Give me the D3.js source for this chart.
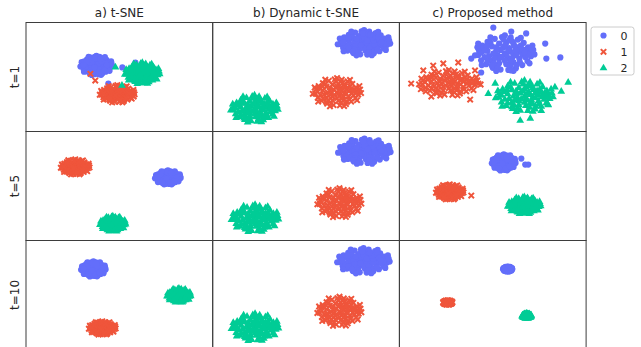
<!DOCTYPE html>
<html>
<head>
<meta charset="utf-8">
<script src="https://cdn.jsdelivr.net/npm/d3@7"></script>
<style>
  html, body { margin: 0; padding: 0; background: #fff; }
  svg { display: block; font-family: "DejaVu Sans", sans-serif; }
</style>
</head>
<body>
<svg id="chart" width="641" height="347"></svg>
<script>
// ---- data -------------------------------------------------------------
const classes = ["0", "1", "2"];
const classColors = ["#636efa", "#ef553b", "#00cc96"];
const colTitles = ["a) t-SNE", "b) Dynamic t-SNE", "c) Proposed method"];
const rowLabels = ["t=1", "t=5", "t=10"];

// embedding extent shown in every panel
const xDomain = [-50, 50];
const yDomain = [-29, 29];

// normalised layout of the points inside one cluster (unit radius)
const blobShape = [
  [0, 0], [0.2, 0.1], [-0.15, 0.2], [0.1, -0.25], [-0.25, -0.1], [0.3, -0.05],
  [-0.05, 0.33], [-0.3, 0.15], [0.15, 0.3], [-0.2, -0.3], [0.25, -0.25], [0.05, -0.1],
  [0.5, 0.1], [0.45, 0.35], [0.3, 0.55], [0.05, 0.6], [-0.2, 0.55], [-0.45, 0.4],
  [-0.6, 0.15], [-0.55, -0.15], [-0.45, -0.4], [-0.2, -0.55], [0.05, -0.6], [0.3, -0.5],
  [0.5, -0.3], [0.62, -0.05], [0.4, -0.1], [-0.4, 0.0], [0.0, 0.45], [0.0, -0.4],
  [0.38, 0.2], [-0.35, -0.25], [0.2, -0.45], [-0.3, 0.35],
  [0.85, 0.1], [0.8, 0.35], [0.65, 0.6], [0.45, 0.78], [0.2, 0.9], [-0.1, 0.92],
  [-0.35, 0.82], [-0.6, 0.65], [-0.78, 0.45], [-0.9, 0.2], [-0.92, -0.08], [-0.82, -0.38],
  [-0.65, -0.6], [-0.42, -0.8], [-0.15, -0.9], [0.12, -0.92], [0.38, -0.82], [0.6, -0.65],
  [0.78, -0.42], [0.9, -0.15], [0.72, 0.2], [0.55, 0.45], [-0.7, -0.2], [-0.75, 0.3],
  [0.7, -0.2], [0.6, 0.25], [-0.5, 0.6], [0.15, 0.75], [-0.25, -0.75], [0.4, -0.65],
  [-0.6, -0.45], [0.8, -0.05],
  [1.02, -0.05], [0.95, 0.45], [0.55, 0.88], [0.0, 1.02], [-0.5, 0.9], [-0.95, 0.35],
  [-1.03, -0.1], [-0.8, -0.65], [-0.3, -0.98], [0.3, -0.97], [0.85, -0.55], [0.98, 0.2],
  [0.12, 0.18], [-0.38, -0.55], [0.68, 0.05], [-0.12, -0.18], [0.33, 0.42], [-0.62, 0.42],
  [0.18, -0.72], [-0.05, 0.78], [-0.82, 0.05], [0.52, -0.5], [0.25, 0.68], [-0.45, -0.68]
];

// cluster centre (x, y) and spread (sx, sy) per panel: row = time step, col = method
const clusters = [
  // t=1
  { row: 0, col: 0, cls: 0, x: -12.3, y: 6.1, sx: 8.3, sy: 5.1 },
  { row: 0, col: 0, cls: 1, x: -1.1, y: -9.0, sx: 9.1, sy: 4.6 },
  { row: 0, col: 0, cls: 2, x: 12.3, y: 1.9, sx: 9.1, sy: 5.6 },
  { row: 0, col: 1, cls: 0, x: 31.1, y: 18.1, sx: 13.7, sy: 6.7 },
  { row: 0, col: 1, cls: 1, x: 16.6, y: -8.2, sx: 12.6, sy: 7.5 },
  { row: 0, col: 1, cls: 2, x: -27.6, y: -17.0, sx: 12.3, sy: 7.2 },
  { row: 0, col: 2, cls: 0, x: 6.5, y: 12.5, sx: 15.5, sy: 9.5 },
  { row: 0, col: 2, cls: 1, x: -23.5, y: -3.2, sx: 15.5, sy: 6.8 },
  { row: 0, col: 2, cls: 2, x: 17.0, y: -10.3, sx: 15.0, sy: 8.3 },
  // t=5
  { row: 1, col: 0, cls: 0, x: 26.0, y: 4.5, sx: 6.7, sy: 3.7 },
  { row: 1, col: 0, cls: 1, x: -23.6, y: 10.1, sx: 7.5, sy: 4.0 },
  { row: 1, col: 0, cls: 2, x: -3.5, y: -20.2, sx: 6.7, sy: 4.0 },
  { row: 1, col: 1, cls: 0, x: 31.3, y: 18.4, sx: 13.7, sy: 6.7 },
  { row: 1, col: 1, cls: 1, x: 17.9, y: -9.0, sx: 11.5, sy: 7.7 },
  { row: 1, col: 1, cls: 2, x: -27.3, y: -17.3, sx: 12.3, sy: 7.2 },
  { row: 1, col: 2, cls: 0, x: 5.9, y: 12.5, sx: 6.2, sy: 4.3 },
  { row: 1, col: 2, cls: 1, x: -23.0, y: -3.2, sx: 7.2, sy: 4.0 },
  { row: 1, col: 2, cls: 2, x: 16.9, y: -10.4, sx: 8.6, sy: 4.5 },
  // t=10
  { row: 2, col: 0, cls: 0, x: -13.9, y: 13.8, sx: 6.4, sy: 4.0 },
  { row: 2, col: 0, cls: 1, x: -9.1, y: -17.6, sx: 7.0, sy: 3.5 },
  { row: 2, col: 0, cls: 2, x: 31.9, y: -0.3, sx: 6.2, sy: 3.7 },
  { row: 2, col: 1, cls: 0, x: 30.8, y: 18.1, sx: 13.7, sy: 6.7 },
  { row: 2, col: 1, cls: 1, x: 17.9, y: -8.8, sx: 11.5, sy: 7.7 },
  { row: 2, col: 1, cls: 2, x: -27.3, y: -17.3, sx: 12.3, sy: 7.2 },
  { row: 2, col: 2, cls: 0, x: 8.0, y: 13.8, sx: 2.4, sy: 1.3 },
  { row: 2, col: 2, cls: 1, x: -24.1, y: -4.0, sx: 2.4, sy: 1.1 },
  { row: 2, col: 2, cls: 2, x: 18.2, y: -11.2, sx: 2.4, sy: 1.3 }
];

// individual points lying away from their cluster
const strayPoints = [
  { row: 0, col: 0, cls: 0, x: 1.6, y: 5.1 }, { row: 0, col: 0, cls: 0, x: 8.6, y: 7.7 },
  { row: 0, col: 0, cls: 0, x: -5.9, y: -3.5 },
  { row: 0, col: 0, cls: 1, x: -15.5, y: 1.7 }, { row: 0, col: 0, cls: 1, x: -12.9, y: -1.9 },
  { row: 0, col: 0, cls: 1, x: 7.7, y: -10.4 },
  { row: 0, col: 0, cls: 2, x: -2.1, y: 5.2 }, { row: 0, col: 0, cls: 2, x: 1.4, y: -4.5 },

  { row: 0, col: 2, cls: 0, x: 0.3, y: 26.3 }, { row: 0, col: 2, cls: 0, x: 17.9, y: 23.2 },
  { row: 0, col: 2, cls: 0, x: 28.1, y: 17.8 }, { row: 0, col: 2, cls: 0, x: 36.2, y: 10.4 },
  { row: 0, col: 2, cls: 0, x: 28.7, y: 9.8 }, { row: 0, col: 2, cls: 0, x: -6.2, y: 2.4 },
  { row: 0, col: 2, cls: 0, x: -11.5, y: 9.8 }, { row: 0, col: 2, cls: 0, x: 9.9, y: 24.2 },
  { row: 0, col: 2, cls: 0, x: -7.8, y: 17.8 }, { row: 0, col: 2, cls: 0, x: 9.9, y: 3.5 },
  { row: 0, col: 2, cls: 0, x: 20.5, y: 15.5 }, { row: 0, col: 2, cls: 0, x: -4.5, y: 14.0 },
  { row: 0, col: 2, cls: 1, x: -43.7, y: -3.5 }, { row: 0, col: 2, cls: 1, x: -12.1, y: -12.0 },
  { row: 0, col: 2, cls: 1, x: -18.5, y: 7.7 }, { row: 0, col: 2, cls: 1, x: -26.5, y: 7.2 },
  { row: 0, col: 2, cls: 1, x: -31.9, y: 6.1 }, { row: 0, col: 2, cls: 1, x: -37.2, y: 3.5 },
  { row: 0, col: 2, cls: 1, x: -32.9, y: -10.4 }, { row: 0, col: 2, cls: 1, x: -9.5, y: 3.5 },
  { row: 0, col: 2, cls: 1, x: -38.5, y: -6.5 }, { row: 0, col: 2, cls: 1, x: -6.5, y: -4.0 },
  { row: 0, col: 2, cls: 2, x: 40.4, y: -2.9 }, { row: 0, col: 2, cls: 2, x: 20.1, y: -22.1 },
  { row: 0, col: 2, cls: 2, x: 14.7, y: -23.2 }, { row: 0, col: 2, cls: 2, x: 1.3, y: -3.5 },
  { row: 0, col: 2, cls: 2, x: 36.7, y: -7.7 }, { row: 0, col: 2, cls: 2, x: 11.0, y: -16.8 },
  { row: 0, col: 2, cls: 2, x: 33.3, y: -5.4 }, { row: 0, col: 2, cls: 2, x: -2.4, y: -8.9 },
  { row: 0, col: 2, cls: 2, x: 26.0, y: -18.0 }, { row: 0, col: 2, cls: 2, x: 29.5, y: -14.5 },

  { row: 1, col: 2, cls: 0, x: 15.3, y: 14.6 }, { row: 1, col: 2, cls: 0, x: 17.4, y: 11.4 },
  { row: 1, col: 2, cls: 0, x: 19.0, y: 11.4 },
  { row: 1, col: 2, cls: 1, x: -11.5, y: -5.1 }
];

// ---- layout -----------------------------------------------------------
const gridLeft = 26, gridTop = 22.5;
const panelW = 186.7, panelH = 109;

const svg = d3.select("#chart");

const x = d3.scaleLinear().domain(xDomain).range([0, panelW]);
const y = d3.scaleLinear().domain(yDomain).range([panelH, 0]);

const circlePath = d3.symbol(d3.symbolCircle, 30)();
const trianglePath = d3.symbol(d3.symbolTriangle, 26)();

function drawMarker(sel, cls) {
  if (cls === 0) {
    sel.append("path").attr("d", circlePath).attr("fill", classColors[0]);
  } else if (cls === 1) {
    sel.append("path")
      .attr("d", "M-2.7,-2.7L2.7,2.7M-2.7,2.7L2.7,-2.7")
      .attr("stroke", classColors[1]).attr("stroke-width", 2).attr("fill", "none");
  } else {
    sel.append("path").attr("d", trianglePath).attr("fill", classColors[2]);
  }
}

// expand every cluster into its points
const allPoints = [];
clusters.forEach(c => {
  blobShape.forEach(([u, v]) => {
    allPoints.push({ row: c.row, col: c.col, cls: c.cls, x: c.x + u * c.sx, y: c.y + v * c.sy });
  });
});
strayPoints.forEach(p => allPoints.push(p));

for (let r = 0; r < rowLabels.length; r++) {
  for (let c = 0; c < colTitles.length; c++) {
    const px = gridLeft + c * panelW, py = gridTop + r * panelH;
    const g = svg.append("g").attr("transform", `translate(${px},${py})`);
    const clipId = `clip-${r}-${c}`;
    g.append("clipPath").attr("id", clipId)
      .append("rect").attr("width", panelW).attr("height", panelH);

    const plot = g.append("g").attr("clip-path", `url(#${clipId})`);
    for (let k = 0; k < classes.length; k++) {
      const pts = allPoints.filter(p => p.row === r && p.col === c && p.cls === k);
      plot.selectAll(null).data(pts).enter().append("g")
        .attr("transform", d => `translate(${x(d.x)},${y(d.y)})`)
        .each(function () { drawMarker(d3.select(this), k); });
    }

    g.append("rect")
      .attr("width", panelW).attr("height", panelH)
      .attr("fill", "none").attr("stroke", "#3d3d3d").attr("stroke-width", 1);
  }
}

// column titles
colTitles.forEach((t, c) => {
  svg.append("text")
    .attr("x", gridLeft + (c + 0.5) * panelW).attr("y", 16.5)
    .attr("text-anchor", "middle").attr("font-size", 12).attr("fill", "#262626")
    .text(t);
});

// row labels
rowLabels.forEach((t, r) => {
  const cy = gridTop + (r + 0.5) * panelH;
  svg.append("text")
    .attr("transform", `translate(18.5,${cy}) rotate(-90)`)
    .attr("text-anchor", "middle").attr("font-size", 12).attr("fill", "#262626")
    .text(t);
});

// legend
const legend = svg.append("g").attr("transform", "translate(591,27)");
legend.append("rect")
  .attr("width", 43).attr("height", 48).attr("rx", 2.5)
  .attr("fill", "#fff").attr("stroke", "#cccccc").attr("stroke-width", 1);
classes.forEach((name, k) => {
  const row = legend.append("g").attr("transform", `translate(0,${8.5 + k * 16.3})`);
  const m = row.append("g").attr("transform", "translate(12.5,0)");
  drawMarker(m, k);
  row.append("text")
    .attr("x", 33).attr("y", 4).attr("text-anchor", "middle")
    .attr("font-size", 11).attr("fill", "#262626").text(name);
});
</script>
</body>
</html>
